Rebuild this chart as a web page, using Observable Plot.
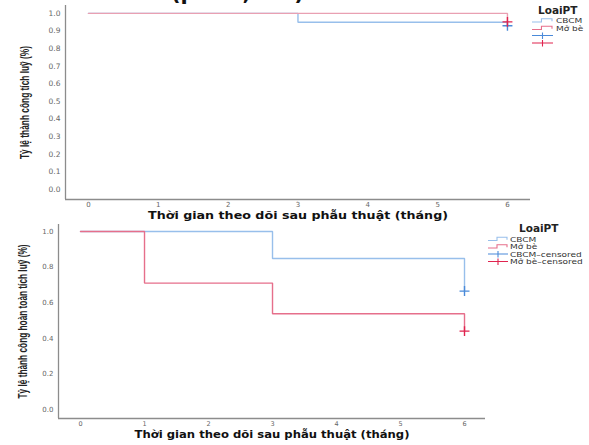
<!DOCTYPE html>
<html><head><meta charset="utf-8">
<script src="https://cdn.jsdelivr.net/npm/d3@7"></script>
<script src="https://cdn.jsdelivr.net/npm/@observablehq/plot@0.6"></script>
<style>
html,body{margin:0;padding:0;background:#fff;}
#wrap{position:relative;width:589px;height:445px;overflow:hidden;background:#fff;}
#wrap svg{position:absolute;left:0;}
</style></head><body><div id="wrap"></div>
<script>
// ---------- data ----------
const groups = ["CBCM", "Mở bè"];
const legendTitle = "LoaiPT";
const censorLabels = ["CBCM\u2013censored", "Mở bè\u2013censored"];
const xTicks = [0, 1, 2, 3, 4, 5, 6];
const xTitle = "Thời gian theo dõi sau phẫu thuật (tháng)";

// top panel
const topTitle = "(p = 0,317)";
const topYTitle = "Tỷ lệ thành công tích luỹ (%)";
const topYTicks = [0, 0.1, 0.2, 0.3, 0.4, 0.5, 0.6, 0.7, 0.8, 0.9, 1.0];
const topCBCMTime = [0, 3, 6];
const topCBCMValue = [1.0, 0.95, 0.93];
const topMoBeTime = [0, 6];
const topMoBeValue = [1.0, 0.952];

// bottom panel
const botYTitle = "Tỷ lệ thành công hoàn toàn tích luỹ (%)";
const botYTicks = [0, 0.2, 0.4, 0.6, 0.8, 1.0];
const botCBCMTime = [0, 3, 6];
const botCBCMValue = [1.0, 0.848, 0.665];
const botMoBeTime = [0, 1, 3, 6];
const botMoBeValue = [1.0, 0.71, 0.538, 0.44];

// ---------- styles ----------
const lineBlue = "#98bfeb", lineRed = "#e66f8b", lineRedTop = "#e9a0b2";
const censBlue = "#4a8ad9", censRed = "#e0244f";
const axisGray = "#8c8c8c";
const narrow = "'Liberation Sans Narrow','Liberation Sans',sans-serif";

function rows(times, values, g) { return times.map((t, i) => ({t, s: values[i], g})); }

function fitText(svgNode, content, len, adjust) {
  d3.select(svgNode).selectAll("text").filter(function () { return this.textContent === content; })
    .attr("textLength", len).attr("lengthAdjust", adjust);
}

function panel(o) {
  const lines = [...rows(o.cbT, o.cbV, groups[0]), ...rows(o.mbT, o.mbV, groups[1])];
  const cens = [
    {t: o.cbT[o.cbT.length - 1], s: o.cbV[o.cbV.length - 1], c: censBlue},
    {t: o.mbT[o.mbT.length - 1], s: o.mbV[o.mbV.length - 1], c: censRed}
  ];
  const col = {[groups[0]]: lineBlue, [groups[1]]: o.red};
  const p = Plot.plot({
    width: 589, height: o.height,
    marginTop: o.mt, marginBottom: o.mb, marginLeft: o.ml, marginRight: o.mr,
    x: {domain: o.xd}, y: {domain: o.yd},
    color: {type: "identity"},
    style: {fontFamily: "DejaVu Sans", background: "transparent", overflow: "visible"},
    marks: [
      Plot.ruleX([o.xd[0]], {stroke: axisGray, strokeWidth: 1.3}),
      Plot.ruleY([o.yd[0]], {stroke: axisGray, strokeWidth: 1.3}),
      Plot.axisY({ticks: o.yTicks, tickSize: 0, tickPadding: 5, tickFormat: d3.format(".1f"),
        fontSize: o.yfs, fill: "#666", label: null}),
      Plot.axisX({ticks: xTicks, tickSize: 0, tickPadding: 3, tickFormat: d3.format("d"),
        fontSize: o.xfs, fill: "#666", label: null}),
      Plot.line(lines, {x: "t", y: "s", z: "g", stroke: d => col[d.g], curve: "step-after",
        strokeWidth: 1.4, strokeLinejoin: "miter"}),
      Plot.dot(cens, {x: "t", y: "s", symbol: "plus", r: 3.3, stroke: "c", strokeWidth: 1.4}),
      Plot.text([xTitle], {frameAnchor: "bottom", dy: 19, fontWeight: "bold",
        fontSize: o.tfs, fill: "#111", text: d => d}),
      Plot.text([o.yTitle], {frameAnchor: "left", textAnchor: "middle", rotate: -90, dx: o.ydx,
        fontWeight: "bold", fontSize: 13, fill: "#222", fontFamily: narrow, text: d => d})
    ]
  });
  p.style.top = o.top + "px";
  fitText(p, xTitle, o.xTitleLen, "spacingAndGlyphs");
  fitText(p, o.yTitle, o.yTitleLen, "spacingAndGlyphs");
  return p;
}

const wrap = document.getElementById("wrap");
wrap.appendChild(panel({
  top: 0, height: 225, mt: 5, mb: 26, ml: 65, mr: 59,
  xd: [-0.329, 6.33], yd: [-0.057, 1.045], yTicks: topYTicks, yTitle: topYTitle,
  cbT: topCBCMTime, cbV: topCBCMValue, mbT: topMoBeTime, mbV: topMoBeValue,
  red: lineRedTop, yfs: 7.5, xfs: 7, tfs: 11, ydx: -41, xTitleLen: 300, yTitleLen: 113
}));
wrap.appendChild(panel({
  top: 215, height: 230, mt: 9, mb: 27, ml: 58, mr: 104,
  xd: [-0.344, 6.328], yd: [-0.0506, 1.039], yTicks: botYTicks, yTitle: botYTitle,
  cbT: botCBCMTime, cbV: botCBCMValue, mbT: botMoBeTime, mbV: botMoBeValue,
  red: lineRed, yfs: 7, xfs: 6.5, tfs: 10.2, ydx: -36, xTitleLen: 275, yTitleLen: 154
}));

// ---------- legends & title fragment ----------
const svg = d3.select(wrap).append("svg").attr("width", 589).attr("height", 445).style("top", "0px")
  .style("font-family", "DejaVu Sans");
svg.append("text").attr("x", 171).attr("y", 0).attr("font-size", 21).attr("font-weight", "bold")
  .attr("fill", "#111").text(topTitle);

function legend(x0, y0, iconX, iconW, textX, ys, labels, stepColors, censColors) {
  svg.append("text").attr("x", x0).attr("y", y0).attr("dy", "0.35em").attr("font-size", 10.5)
    .attr("font-weight", "bold").attr("fill", "#222").text(legendTitle);
  const mid = iconX + iconW * 0.45;
  stepColors.forEach((c, i) => {
    const y = ys[i];
    svg.append("path").attr("d", `M${iconX},${y + 1.5}H${mid}V${y - 1.8}H${iconX + iconW - 1}V${y + 0.8}`)
      .attr("fill", "none").attr("stroke", c).attr("stroke-width", 1.1);
  });
  censColors.forEach((c, i) => {
    const y = ys[i + 2];
    svg.append("path").attr("d", `M${iconX},${y}H${iconX + iconW}M${iconX + iconW / 2},${y - 3}V${y + 3.5}`)
      .attr("fill", "none").attr("stroke", c).attr("stroke-width", 1.1);
  });
  labels.forEach((l, i) => {
    svg.append("text").attr("transform", `translate(${textX},${ys[i]}) scale(1,0.8)`)
      .attr("dy", "0.35em").attr("font-size", 9)
      .attr("fill", "#333").text(l);
  });
}
legend(538, 10, 532, 21, 556, [20.5, 28, 35.5, 43], groups, [lineBlue, lineRed], [censBlue, censRed]);
legend(519, 228, 488, 20, 510, [239, 246.5, 254, 261.5], [...groups, ...censorLabels],
  [lineBlue, lineRed], [censBlue, censRed]);
</script></body></html>
